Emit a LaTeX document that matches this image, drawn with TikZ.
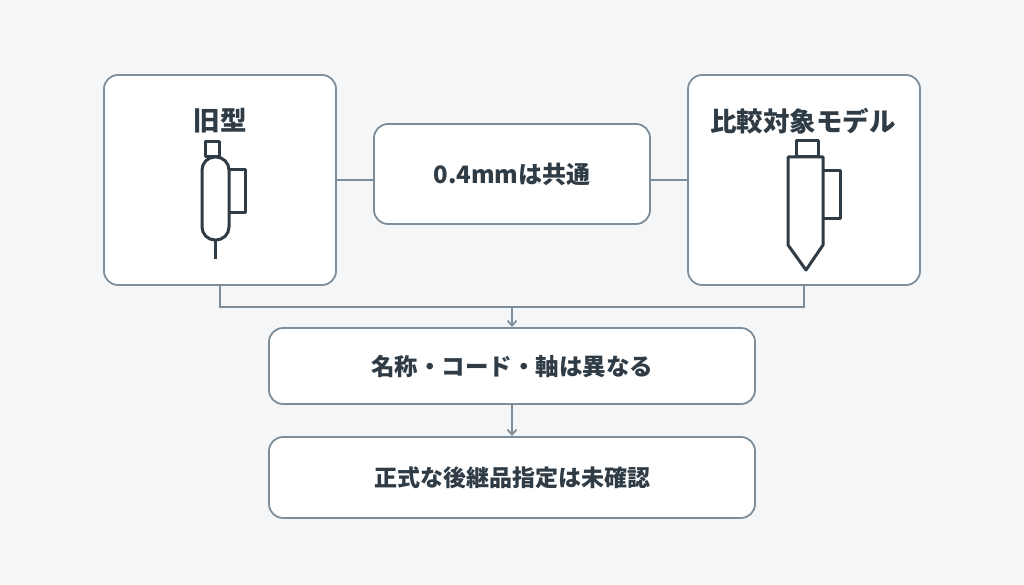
\documentclass[tikz,border=0pt]{standalone}
\usepackage{fontspec}
\setmainfont{Noto Sans CJK JP}
\usetikzlibrary{arrows.meta}
\definecolor{bg}{HTML}{F5F6F8}
\definecolor{edge}{HTML}{7D8E9A}
\definecolor{ink}{HTML}{2F3B45}
\tikzset{
  box/.style={draw=edge, fill=white, line width=1.8pt, rounded corners=14pt},
  lab/.style={text=ink, font=\bfseries},
  link/.style={draw=edge, line width=1.8pt},
  icon/.style={draw=ink, line width=3pt, line join=round},
}
\begin{document}
\begin{tikzpicture}[x=1pt,y=-1pt]
  \fill[bg] (0,0) rectangle (1024,585);
  \useasboundingbox (0,0) rectangle (1024,585);

  % boxes
  \draw[box] (104,75) rectangle (336,285);
  \draw[box] (374,124) rectangle (650,224);
  \draw[box] (688,75) rectangle (920,285);
  \draw[box] (269,328) rectangle (755,404);
  \draw[box] (269,437) rectangle (755,518);
  \coordinate (old) at (220,285);
  \coordinate (cmp) at (804,285);
  \coordinate (join) at (512,307);

  % links
  \draw[link] (336,180) -- (374,180);
  \draw[link] (650,180) -- (688,180);
  \draw[link] (old) |- (join) -| (cmp);
  \draw[link,-{Straight Barb[length=5pt,width=9pt]}] (join) -- (512,327);
  \draw[link,-{Straight Barb[length=5pt,width=9pt]}] (512,404) -- (512,436);

  % labels
  \node[lab, font=\bfseries\fontsize{26.5}{30}\selectfont] (tOld) at (220,121) {旧型};
  \node[lab, font=\bfseries\fontsize{26.5}{30}\selectfont] (tCmp) at (803,121) {比較対象モデル};
  \node[lab, font=\bfseries\fontsize{24}{28}\selectfont] (tMid) at (512,174) {0.4mmは共通};
  \node[lab, font=\bfseries\fontsize{23.5}{28}\selectfont] (tDiff) at (512,367) {名称・コード・軸は異なる};
  \node[lab, font=\bfseries\fontsize{23}{28}\selectfont] (tNote) at (512,478) {正式な後継品指定は未確認};

  % old pen icon
  \draw[icon] (205,157) rectangle (219,142);
  \draw[icon, rounded corners=13pt] (202,157) rectangle (229,240);
  \draw[icon] (229,170) -- (245,170) -- (245,213) -- (229,213);
  \draw[icon] (215,240) -- (215,259);

  % new pen icon
  \draw[icon] (796,157) rectangle (818,141);
  \draw[icon] (788,157) -- (823,157) -- (823,245) -- (806,270) -- (788,245) -- cycle;
  \draw[icon] (823,171) -- (840,171) -- (840,219) -- (823,219);
\end{tikzpicture}
\end{document}
